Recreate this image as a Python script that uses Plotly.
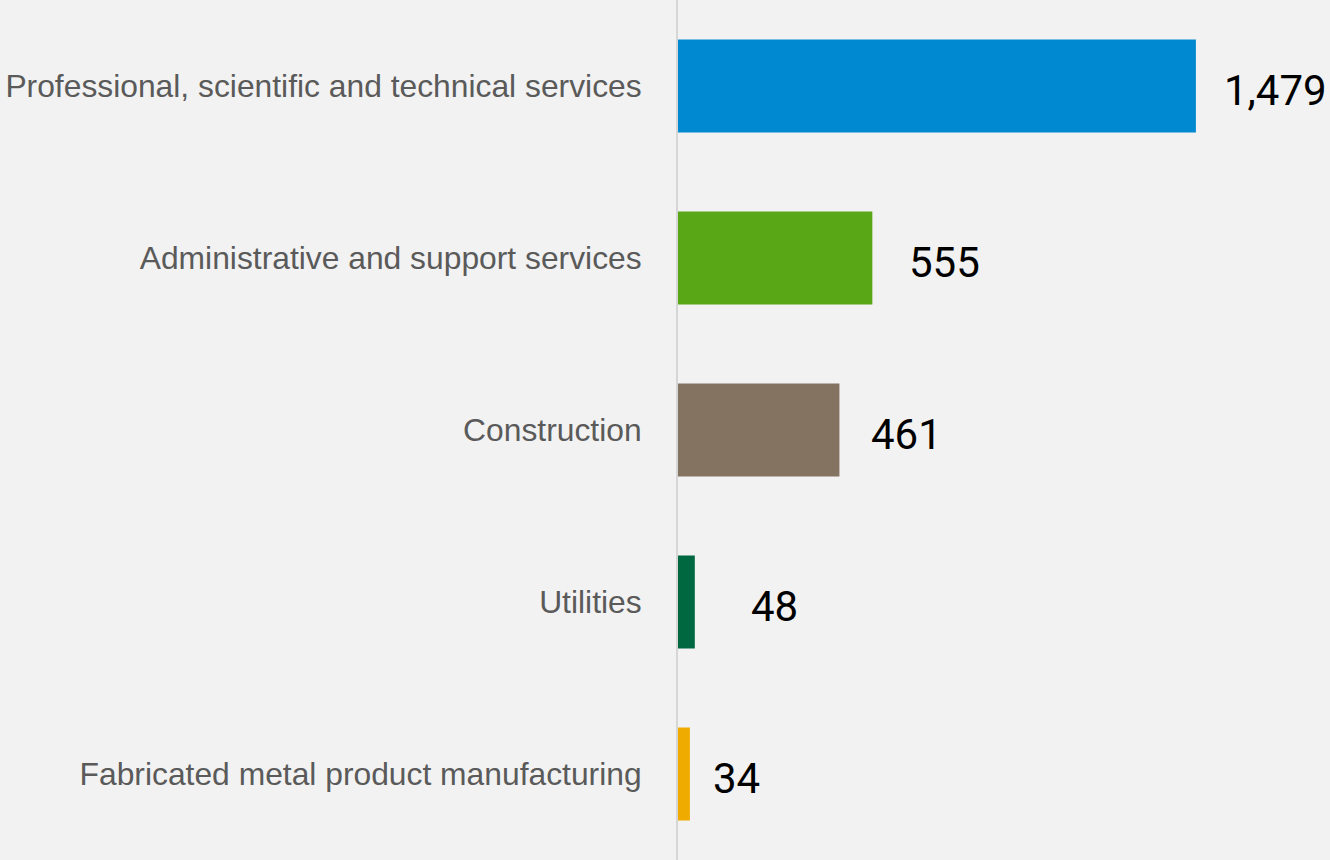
import plotly.graph_objects as go

categories = [
    "Professional, scientific and technical services",
    "Administrative and support services",
    "Construction",
    "Utilities",
    "Fabricated metal product manufacturing",
]
values = [1479, 555, 461, 48, 34]
value_labels = ["1,479", "555", "461", "48", "34"]
bar_colors = ["#0088d1", "#59a617", "#857361", "#006841", "#f0ab00"]

# styling: per-label horizontal offset of the value text (pixels)
label_gaps = [26, 35, 30, 54, 21]

fig = go.Figure()
fig.add_trace(go.Bar(
    y=categories,
    x=values,
    orientation="h",
    marker=dict(color=bar_colors, line=dict(width=0)),
    hoverinfo="skip",
))

for cat, v, lab, g in zip(categories, values, value_labels, label_gaps):
    fig.add_annotation(
        x=v, y=cat, text=lab, showarrow=False,
        xanchor="left", yanchor="middle", xshift=g, yshift=-4,
        font=dict(family="Roboto", size=42, color="#000000"),
    )

fig.update_layout(
    template="none",
    width=1330, height=860,
    margin=dict(l=678, r=0, t=0, b=0, pad=0),
    paper_bgcolor="#f2f2f2",
    plot_bgcolor="#f2f2f2",
    bargap=0.46,
    showlegend=False,
    xaxis=dict(range=[0, 1862], visible=False, fixedrange=True, automargin=False),
    yaxis=dict(
        autorange="reversed", automargin=False,
        showline=True, linecolor="#d6d6d6", linewidth=2,
        showgrid=False, zeroline=False, fixedrange=True,
        ticks="", ticklabelstandoff=28,
        tickfont=dict(family="Liberation Sans, Arial", size=31.8, color="#5a5a5a"),
    ),
)

fig.write_html(
    "out.html",
    config={"displayModeBar": False},
    post_script="document.body.style.margin='0';document.body.style.background='#f2f2f2';",
)
